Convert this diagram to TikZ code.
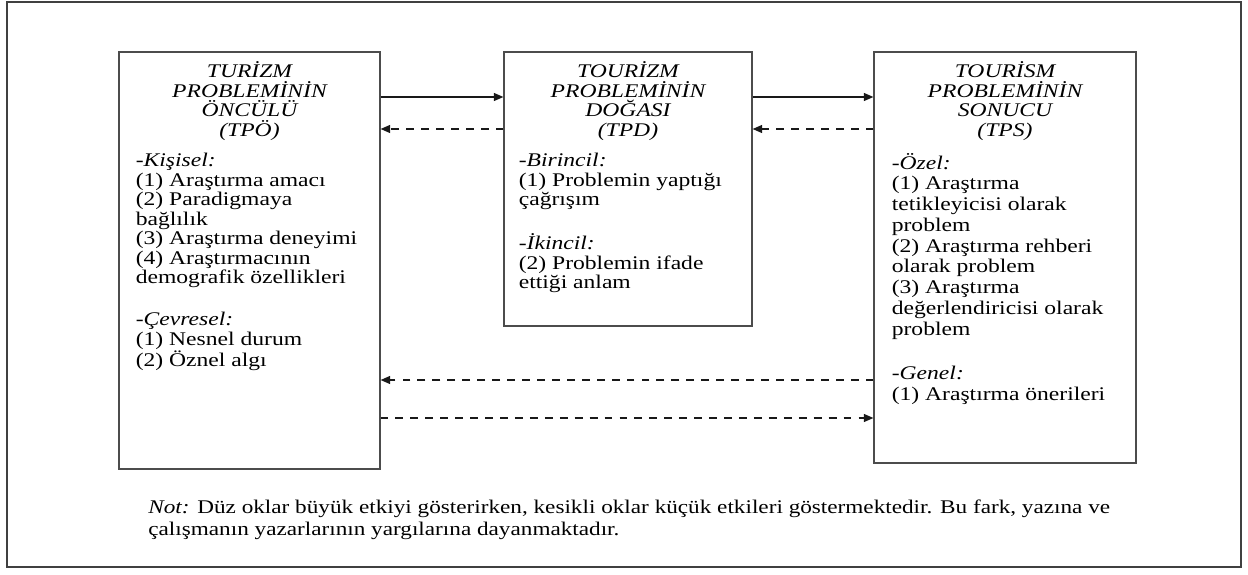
\documentclass[tikz,border=0pt]{standalone}
\usepackage{fontspec}
\setmainfont{Liberation Serif}
\newfontfamily\boxfont{Liberation Serif}[FakeStretch=1.22]
\newfontfamily\notefont{Liberation Serif}[FakeStretch=1.2]
\usetikzlibrary{positioning}
\usetikzlibrary{arrows.meta}

\begin{document}
\begin{tikzpicture}[frame_box/.style={draw=black!75,line width=0.8pt}, main_box/.style={rectangle,draw=black!70,line width=0.6pt,inner sep=0pt}, box_title/.style={align=center,inner sep=0pt,font=\boxfont\itshape\fontsize{11}{11.1}\selectfont}, box_body/.style={align=left,inner sep=0pt,font=\boxfont\fontsize{11}{11.1}\selectfont}, big_arrow/.style={line width=0.9pt,draw=black!90,-{Triangle[length=5.5pt,width=4.5pt]}}, small_arrow/.style={big_arrow,dash pattern=on 4.5pt off 4pt}]

	\useasboundingbox (0,0) rectangle (24.96,11.48);
	\draw[frame_box] (0.14,0.14) rectangle (24.82,11.44);

	\node[main_box,minimum width=5.22cm,minimum height=8.34cm] (tpo) at (4.99,6.27) {};
	\node[main_box,minimum width=4.96cm,minimum height=5.48cm] (tpd) at (12.56,7.70) {};
	\node[main_box,minimum width=5.24cm,minimum height=8.22cm] (tps) at (20.10,6.33) {};

	\node[box_title,below=0.2cm of tpo.north] (tpo_title) {TURİZM\\PROBLEMİNİN\\ÖNCÜLÜ\\(TPÖ)};
	\node[box_title,below=0.2cm of tpd.north] (tpd_title) {TOURİZM\\PROBLEMİNİN\\DOĞASI\\(TPD)};
	\node[box_title,below=0.2cm of tps.north] (tps_title) {TOURİSM\\PROBLEMİNİN\\SONUCU\\(TPS)};

	\node[box_body,anchor=north west] (tpo_body) at ([xshift=0.34cm,yshift=-0.24cm]tpo_title.south -| tpo.west) {\textit{-Kişisel:}\\(1) Araştırma amacı\\(2) Paradigmaya\\bağlılık\\(3) Araştırma deneyimi\\(4) Araştırmacının\\demografik özellikleri\\[0.45cm]\textit{-Çevresel:}\\(1) Nesnel durum\\(2) Öznel algı};
	\node[box_body,anchor=north west] (tpd_body) at ([xshift=0.30cm,yshift=-0.24cm]tpd_title.south -| tpd.west) {\textit{-Birincil:}\\(1) Problemin yaptığı\\çağrışım\\[0.45cm]\textit{-İkincil:}\\(2) Problemin ifade\\ettiği anlam};
	\node[box_body,anchor=north west,font=\boxfont\fontsize{11}{11.8}\selectfont] (tps_body) at ([xshift=0.36cm,yshift=-0.24cm]tps_title.south -| tps.west) {\textit{-Özel:}\\(1) Araştırma\\tetikleyicisi olarak\\problem\\(2) Araştırma rehberi\\olarak problem\\(3) Araştırma\\değerlendiricisi olarak\\problem\\[0.48cm]\textit{-Genel:}\\(1) Araştırma önerileri};

	\coordinate (row_a) at (0,9.54);
	\coordinate (row_b) at (0,8.90);
	\coordinate (row_c) at (0,3.88);
	\coordinate (row_d) at (0,3.12);

	\draw[big_arrow] (tpo.east |- row_a) -- (tpd.west |- row_a);
	\draw[small_arrow] (tpd.west |- row_b) -- (tpo.east |- row_b);
	\draw[big_arrow] (tpd.east |- row_a) -- (tps.west |- row_a);
	\draw[small_arrow] (tps.west |- row_b) -- (tpd.east |- row_b);
	\draw[small_arrow] (tps.west |- row_c) -- (tpo.east |- row_c);
	\draw[small_arrow] (tpo.east |- row_d) -- (tps.west |- row_d);

	\node[align=left,inner sep=0pt,anchor=north west,font=\notefont\fontsize{11}{12}\selectfont] (note) at (2.96,1.48) {\textit{Not:} Düz oklar büyük etkiyi gösterirken, kesikli oklar küçük etkileri göstermektedir. Bu fark, yazına ve\\çalışmanın yazarlarının yargılarına dayanmaktadır.};
\end{tikzpicture}
\end{document}
